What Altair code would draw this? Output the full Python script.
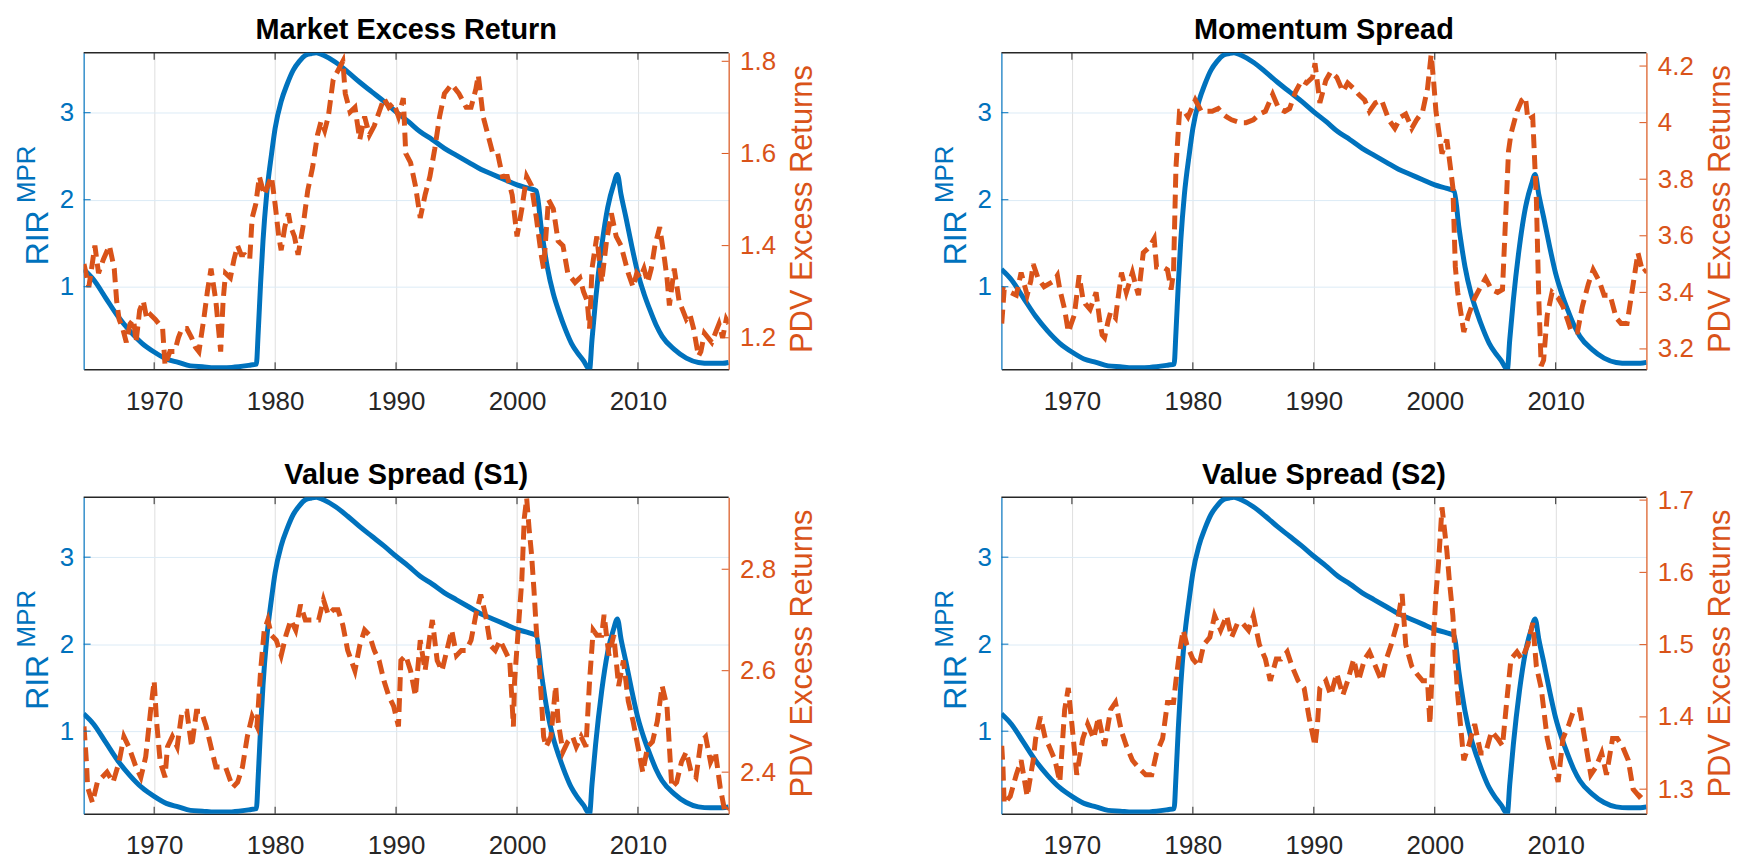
import altair as alt
import pandas as pd

# ---------------- data ----------------
rir_years = [1964.17, 1965.0, 1966.0, 1967.0, 1968.0, 1969.0, 1970.0, 1971.0, 1972.0, 1973.0,
             1974.0, 1975.0, 1976.0, 1977.0, 1978.0, 1978.45, 1978.6, 1978.8, 1979.0, 1979.3,
             1979.7, 1980.0, 1980.5, 1981.0, 1981.5, 1982.0, 1982.5, 1983.0, 1983.4, 1984.0,
             1985.0, 1986.0, 1987.0, 1988.0, 1989.0, 1990.0, 1991.0, 1992.0, 1993.0, 1994.0,
             1995.0, 1996.0, 1997.0, 1998.0, 1999.0, 2000.0, 2001.0, 2001.6, 2002.0, 2002.5,
             2003.0, 2003.5, 2004.0, 2004.5, 2005.0, 2005.5, 2006.0, 2006.2, 2006.5, 2007.0,
             2007.5, 2008.0, 2008.3, 2008.6, 2009.0, 2009.5, 2010.0, 2010.5, 2011.0, 2011.5,
             2012.0, 2013.0, 2014.0, 2015.0, 2016.0, 2017.0, 2017.5]
rir_values = [1.20, 1.08, 0.87, 0.66, 0.49, 0.35, 0.25, 0.17, 0.13, 0.09,
              0.08, 0.07, 0.07, 0.08, 0.10, 0.11, 0.47, 1.04, 1.53, 2.06,
              2.52, 2.82, 3.13, 3.33, 3.49, 3.59, 3.66, 3.68, 3.689, 3.66,
              3.58, 3.47, 3.35, 3.24, 3.13, 3.01, 2.90, 2.78, 2.69, 2.59,
              2.51, 2.43, 2.35, 2.29, 2.23, 2.17, 2.13, 2.10, 1.68, 1.23,
              0.92, 0.70, 0.51, 0.35, 0.24, 0.15, 0.051, 0.39, 0.85, 1.46,
              1.91, 2.18, 2.29, 2.06, 1.80, 1.46, 1.15, 0.92, 0.73, 0.56,
              0.43, 0.28, 0.18, 0.13, 0.12, 0.12, 0.13]

market_years = [1964.2, 1964.6, 1965.1, 1965.4, 1965.8, 1966.3, 1966.7, 1966.9, 1967.1, 1967.4,
                1967.7, 1968.0, 1968.3, 1968.5, 1968.8, 1969.1, 1969.4, 1969.7, 1970.1, 1970.4,
                1970.7, 1970.9, 1971.3, 1971.7, 1972.0, 1972.3, 1972.7, 1973.1, 1973.4, 1973.7,
                1974.1, 1974.4, 1974.7, 1975.1, 1975.5, 1975.7, 1975.9, 1976.3, 1976.6, 1976.9,
                1977.2, 1977.5, 1977.9, 1978.1, 1978.4, 1978.7, 1979.1, 1979.4, 1979.7, 1980.0,
                1980.3, 1980.5, 1980.8, 1981.1, 1981.3, 1981.6, 1981.9, 1982.3, 1982.7, 1983.1,
                1983.5, 1983.8, 1984.1, 1984.4, 1984.8, 1985.2, 1985.6, 1985.8, 1986.2, 1986.6,
                1987.0, 1987.4, 1987.8, 1988.2, 1988.6, 1989.0, 1989.4, 1989.8, 1990.2, 1990.6,
                1990.8, 1991.2, 1991.6, 1992.0, 1992.4, 1992.8, 1993.2, 1993.6, 1994.0, 1994.6,
                1995.2, 1995.8, 1996.2, 1996.6, 1996.8, 1997.2, 1997.6, 1998.0, 1998.4, 1998.8,
                1999.2, 1999.6, 2000.0, 2000.4, 2000.8, 2001.2, 2001.6, 2002.0, 2002.2, 2002.6,
                2003.0, 2003.4, 2003.8, 2004.2, 2004.5, 2004.8, 2005.2, 2005.5, 2005.8, 2006.0,
                2006.2, 2006.6, 2007.0, 2007.4, 2007.8, 2008.2, 2008.6, 2008.9, 2009.2, 2009.6,
                2009.9, 2010.2, 2010.5, 2010.8, 2011.1, 2011.4, 2011.8, 2012.2, 2012.4, 2012.6,
                2013.0, 2013.4, 2013.7, 2014.0, 2014.3, 2014.6, 2015.0, 2015.2, 2015.5, 2015.8,
                2016.1, 2016.4, 2016.7, 2017.0, 2017.3, 2017.5]
market_pdv = [1.36, 1.31, 1.40, 1.34, 1.37, 1.40, 1.35, 1.28, 1.24, 1.22,
              1.19, 1.23, 1.24, 1.19, 1.26, 1.28, 1.24, 1.25, 1.24, 1.23,
              1.22, 1.14, 1.17, 1.17, 1.20, 1.22, 1.22, 1.20, 1.18, 1.17,
              1.24, 1.30, 1.35, 1.28, 1.17, 1.28, 1.34, 1.33, 1.37, 1.40,
              1.38, 1.38, 1.37, 1.46, 1.49, 1.55, 1.51, 1.53, 1.55, 1.49,
              1.42, 1.39, 1.44, 1.47, 1.44, 1.42, 1.38, 1.44, 1.52, 1.57,
              1.64, 1.67, 1.65, 1.68, 1.76, 1.78, 1.80, 1.73, 1.69, 1.70,
              1.63, 1.68, 1.64, 1.66, 1.69, 1.72, 1.70, 1.71, 1.68, 1.72,
              1.60, 1.58, 1.53, 1.46, 1.51, 1.55, 1.61, 1.68, 1.73, 1.75,
              1.73, 1.70, 1.70, 1.74, 1.77, 1.68, 1.64, 1.60, 1.60, 1.55,
              1.55, 1.51, 1.42, 1.48, 1.55, 1.53, 1.46, 1.38, 1.35, 1.50,
              1.48, 1.41, 1.40, 1.34, 1.33, 1.32, 1.33, 1.30, 1.28, 1.22,
              1.35, 1.42, 1.32, 1.41, 1.47, 1.42, 1.40, 1.37, 1.34, 1.31,
              1.34, 1.33, 1.35, 1.32, 1.35, 1.40, 1.44, 1.37, 1.33, 1.27,
              1.35, 1.28, 1.26, 1.24, 1.25, 1.22, 1.16, 1.17, 1.21, 1.20,
              1.19, 1.21, 1.23, 1.20, 1.24, 1.23]

momentum_years = [1964.2, 1964.4, 1964.9, 1965.4, 1965.8, 1966.3, 1966.6, 1966.8, 1967.2, 1967.7,
                  1968.1, 1968.5, 1968.8, 1969.0, 1969.4, 1969.7, 1970.2, 1970.6, 1970.9, 1971.1,
                  1971.5, 1972.0, 1972.3, 1972.5, 1972.7, 1973.0, 1973.2, 1973.6, 1974.1, 1974.5,
                  1975.0, 1975.3, 1975.5, 1975.9, 1976.4, 1976.8, 1977.0, 1977.5, 1977.9, 1978.2,
                  1978.4, 1978.6, 1978.9, 1979.3, 1979.6, 1979.8, 1980.2, 1980.7, 1981.2, 1981.6,
                  1982.1, 1982.5, 1982.8, 1983.2, 1983.9, 1984.4, 1985.0, 1985.5, 1986.0, 1986.3,
                  1986.6, 1987.1, 1987.6, 1988.0, 1988.5, 1989.0, 1989.4, 1989.9, 1990.1, 1990.5,
                  1991.0, 1991.4, 1991.9, 1992.4, 1992.8, 1993.3, 1993.7, 1994.2, 1994.6, 1995.1,
                  1995.6, 1996.2, 1996.7, 1997.2, 1997.6, 1998.1, 1998.5, 1999.0, 1999.4, 1999.7,
                  1999.9, 2000.1, 2000.6, 2001.0, 2001.3, 2001.5, 2001.7, 2001.9, 2002.4, 2002.8,
                  2003.3, 2003.8, 2004.2, 2004.7, 2005.2, 2005.6, 2006.1, 2006.3, 2006.8, 2007.2,
                  2007.5, 2007.7, 2008.1, 2008.4, 2008.6, 2008.8, 2009.0, 2009.3, 2009.7, 2010.2,
                  2010.6, 2011.0, 2011.3, 2011.8, 2012.2, 2012.7, 2013.1, 2013.6, 2014.0, 2014.5,
                  2015.0, 2015.4, 2015.9, 2016.3, 2016.8, 2017.2, 2017.5]
momentum_pdv = [3.29, 3.41, 3.40, 3.39, 3.47, 3.39, 3.44, 3.50, 3.45, 3.42,
                3.43, 3.44, 3.46, 3.41, 3.34, 3.26, 3.32, 3.46, 3.38, 3.36,
                3.34, 3.40, 3.30, 3.25, 3.24, 3.30, 3.33, 3.31, 3.47, 3.40,
                3.47, 3.42, 3.39, 3.54, 3.56, 3.59, 3.49, 3.49, 3.48, 3.41,
                3.47, 3.84, 4.04, 4.04, 4.02, 4.04, 4.08, 4.04, 4.04, 4.04,
                4.05, 4.03, 4.02, 4.01, 4.00, 4.00, 4.01, 4.03, 4.04, 4.07,
                4.10, 4.05, 4.04, 4.05, 4.11, 4.15, 4.14, 4.16, 4.21, 4.07,
                4.15, 4.18, 4.16, 4.11, 4.14, 4.12, 4.10, 4.08, 4.04, 4.07,
                4.08, 4.01, 3.98, 4.02, 4.03, 3.98, 4.01, 4.04, 4.12, 4.24,
                4.15, 4.04, 3.89, 3.94, 3.84, 3.77, 3.49, 3.40, 3.26, 3.32,
                3.38, 3.42, 3.45, 3.41, 3.40, 3.41, 3.90, 3.96, 4.04, 4.08,
                4.09, 4.01, 4.02, 3.73, 3.38, 3.14, 3.16, 3.32, 3.40, 3.38,
                3.35, 3.30, 3.26, 3.26, 3.35, 3.43, 3.48, 3.44, 3.39, 3.39,
                3.31, 3.29, 3.29, 3.40, 3.54, 3.47, 3.48]

value1_years = [1964.2, 1964.4, 1964.5, 1964.9, 1965.3, 1965.7, 1966.1, 1966.6, 1967.1, 1967.5,
                1967.9, 1968.2, 1968.5, 1968.9, 1969.3, 1969.7, 1970.0, 1970.2, 1970.5, 1970.9,
                1971.1, 1971.5, 1971.9, 1972.3, 1972.7, 1973.1, 1973.5, 1973.9, 1974.3, 1974.7,
                1975.1, 1975.5, 1975.9, 1976.2, 1976.5, 1976.9, 1977.3, 1977.7, 1978.1, 1978.5,
                1978.8, 1979.1, 1979.4, 1979.7, 1980.1, 1980.5, 1980.9, 1981.3, 1981.7, 1982.1,
                1982.5, 1983.1, 1983.6, 1984.0, 1984.4, 1984.8, 1985.2, 1985.6, 1986.0, 1986.6,
                1987.0, 1987.4, 1987.8, 1988.2, 1988.6, 1989.0, 1989.4, 1989.8, 1990.2, 1990.4,
                1990.8, 1991.2, 1991.6, 1992.0, 1992.4, 1992.8, 1993.0, 1993.4, 1993.8, 1994.2,
                1994.6, 1995.0, 1995.4, 1995.8, 1996.2, 1996.6, 1997.0, 1997.4, 1997.8, 1998.2,
                1998.6, 1999.0, 1999.4, 1999.7, 1999.8, 2000.1, 2000.4, 2000.6, 2000.8, 2001.0,
                2001.2, 2001.4, 2001.6, 2001.8, 2002.0, 2002.2, 2002.4, 2002.8, 2003.2, 2003.4,
                2003.8, 2004.2, 2004.6, 2004.9, 2005.3, 2005.7, 2006.0, 2006.3, 2006.6, 2007.0,
                2007.2, 2007.6, 2008.0, 2008.4, 2008.8, 2009.2, 2009.6, 2010.0, 2010.4, 2010.8,
                2011.2, 2011.6, 2012.0, 2012.4, 2012.8, 2013.2, 2013.6, 2014.0, 2014.4, 2014.8,
                2015.2, 2015.6, 2016.0, 2016.4, 2016.8, 2017.2, 2017.5]
value1_pdv = [2.49, 2.42, 2.37, 2.34, 2.38, 2.39, 2.40, 2.38, 2.42, 2.47,
              2.45, 2.43, 2.41, 2.39, 2.43, 2.52, 2.58, 2.50, 2.42, 2.39,
              2.45, 2.47, 2.45, 2.52, 2.52, 2.45, 2.52, 2.52, 2.49, 2.45,
              2.41, 2.41, 2.41, 2.39, 2.37, 2.38, 2.41, 2.47, 2.51, 2.49,
              2.60, 2.68, 2.70, 2.67, 2.66, 2.63, 2.67, 2.70, 2.68, 2.73,
              2.70, 2.70, 2.70, 2.74, 2.71, 2.72, 2.72, 2.69, 2.64, 2.60,
              2.65, 2.68, 2.67, 2.64, 2.62, 2.58, 2.55, 2.53, 2.49, 2.62,
              2.63, 2.60, 2.55, 2.66, 2.60, 2.67, 2.70, 2.62, 2.60, 2.64,
              2.68, 2.63, 2.64, 2.64, 2.66, 2.71, 2.75, 2.71, 2.65, 2.64,
              2.66, 2.64, 2.62, 2.49, 2.58, 2.68, 2.78, 2.90, 2.94, 2.88,
              2.83, 2.76, 2.68, 2.62, 2.55, 2.47, 2.45, 2.47, 2.57, 2.50,
              2.44, 2.46, 2.47, 2.45, 2.47, 2.45, 2.58, 2.68, 2.67, 2.67,
              2.71, 2.63, 2.67, 2.57, 2.62, 2.54, 2.50, 2.45, 2.40, 2.45,
              2.46, 2.50, 2.57, 2.53, 2.37, 2.38, 2.42, 2.44, 2.40, 2.39,
              2.46, 2.47, 2.42, 2.44, 2.37, 2.32, 2.33]

value2_years = [1964.2, 1964.3, 1964.4, 1964.9, 1965.4, 1965.8, 1966.3, 1966.8, 1967.0, 1967.4,
                1967.8, 1968.1, 1968.6, 1969.0, 1969.4, 1969.7, 1970.0, 1970.4, 1970.9, 1971.3,
                1971.8, 1972.2, 1972.7, 1973.2, 1973.6, 1974.1, 1974.5, 1975.0, 1975.5, 1976.1,
                1976.6, 1977.0, 1977.5, 1977.9, 1978.4, 1978.6, 1978.9, 1979.2, 1979.5, 1980.0,
                1980.5, 1980.9, 1981.4, 1981.8, 1982.3, 1982.8, 1983.2, 1983.7, 1984.1, 1984.6,
                1985.0, 1985.5, 1986.0, 1986.4, 1986.9, 1987.3, 1987.8, 1988.2, 1988.7, 1989.2,
                1989.6, 1990.1, 1990.3, 1990.5, 1991.0, 1991.4, 1991.9, 1992.4, 1992.8, 1993.3,
                1993.7, 1994.2, 1994.6, 1995.1, 1995.6, 1996.0, 1996.4, 1996.9, 1997.3, 1997.6,
                1998.1, 1998.5, 1999.0, 1999.4, 1999.6, 1999.9, 2000.1, 2000.3, 2000.6, 2000.8,
                2001.0, 2001.2, 2001.5, 2001.7, 2001.9, 2002.4, 2002.8, 2003.3, 2003.8, 2004.2,
                2004.7, 2005.2, 2005.6, 2006.0, 2006.3, 2006.8, 2007.2, 2007.7, 2008.1, 2008.4,
                2008.8, 2009.3, 2009.7, 2010.2, 2010.6, 2011.1, 2011.5, 2012.0, 2012.4, 2012.9,
                2013.3, 2013.8, 2014.2, 2014.7, 2015.1, 2015.5, 2016.0, 2016.4, 2016.9, 2017.5]
value2_pdv = [1.36, 1.33, 1.28, 1.29, 1.32, 1.34, 1.29, 1.34, 1.37, 1.40,
              1.37, 1.36, 1.34, 1.31, 1.41, 1.44, 1.39, 1.32, 1.37, 1.39,
              1.37, 1.40, 1.36, 1.41, 1.42, 1.38, 1.36, 1.34, 1.33, 1.32,
              1.32, 1.35, 1.37, 1.42, 1.42, 1.45, 1.49, 1.52, 1.50, 1.48,
              1.47, 1.50, 1.51, 1.54, 1.52, 1.54, 1.51, 1.53, 1.53, 1.52,
              1.54, 1.50, 1.48, 1.45, 1.48, 1.48, 1.49, 1.47, 1.45, 1.44,
              1.40, 1.36, 1.39, 1.44, 1.45, 1.43, 1.46, 1.43, 1.45, 1.48,
              1.45, 1.48, 1.49, 1.47, 1.45, 1.48, 1.50, 1.53, 1.57, 1.50,
              1.47, 1.46, 1.45, 1.45, 1.39, 1.51, 1.57, 1.61, 1.69, 1.66,
              1.63, 1.59, 1.54, 1.48, 1.43, 1.34, 1.36, 1.39, 1.35, 1.35,
              1.38, 1.37, 1.36, 1.43, 1.48, 1.49, 1.48, 1.50, 1.53, 1.47,
              1.44, 1.37, 1.34, 1.31, 1.37, 1.39, 1.41, 1.41, 1.37, 1.32,
              1.33, 1.35, 1.32, 1.37, 1.37, 1.36, 1.34, 1.30, 1.29, 1.30]

x_ticks = [1970, 1980, 1990, 2000, 2010]
left_ticks = [1, 2, 3]
market_ticks = [1.2, 1.4, 1.6, 1.8]
momentum_ticks = [3.2, 3.4, 3.6, 3.8, 4.0, 4.2]
value1_ticks = [2.4, 2.6, 2.8]
value2_ticks = [1.3, 1.4, 1.5, 1.6, 1.7]

x_domain = [1964.17, 2017.5]
left_domain = [0.051, 3.689]
market_domain = [1.1316, 1.8185]
momentum_domain = [3.128, 4.247]
value1_domain = [2.318, 2.942]
value2_domain = [1.266, 1.704]

titles = ["Market Excess Return", "Momentum Spread", "Value Spread (S1)", "Value Spread (S2)"]

# ---------------- styling ----------------
W, H = 648, 318
BLUE = "#0072BD"
ORANGE = "#D95319"
DARK = "#262626"
FONT = "Liberation Sans"
TICK = 7

X_AXIS = alt.Axis(values=x_ticks, format="d", grid=True, gridColor="#DFDFDF", gridWidth=1,
                  ticks=False, domain=True, domainColor=DARK, domainWidth=1.5,
                  labelColor=DARK, labelFontSize=26, labelFont=FONT, labelPadding=19,
                  labelFlush=False, title=None)


def xenc():
    return alt.X("year:Q", scale=alt.Scale(domain=x_domain, nice=False, zero=False),
                 axis=X_AXIS)


def yenc(domain, axis=None):
    return alt.Y("v:Q", scale=alt.Scale(domain=domain, nice=False, zero=False),
                 axis=axis, title=None)


def one(text):
    return pd.DataFrame({"t": [text]})


def panel(title, years, pdv, rdomain, rticks, anchor=False):
    rir_df = pd.DataFrame({"year": rir_years, "v": rir_values})
    pdv_df = pd.DataFrame({"year": years, "v": pdv})

    left_axis = alt.Axis(orient="left", values=left_ticks, format="d", grid=True,
                         gridColor="#DCEBF6", gridWidth=1, ticks=False, domain=True,
                         domainColor=BLUE, domainWidth=1.2, labelColor=BLUE, labelFontSize=26,
                         labelFont=FONT, labelPadding=10)
    right_axis = alt.Axis(orient="right", values=rticks, format="~g", grid=False, ticks=False,
                          domain=True, domainColor=ORANGE, domainWidth=1.2, labelColor=ORANGE,
                          labelFontSize=26, labelFont=FONT, labelPadding=11)

    top_border = alt.Chart(one("b")).mark_rule(color=DARK, strokeWidth=1.5).encode(
        x=alt.value(0), x2=alt.value(W), y=alt.value(0))

    blue = alt.Chart(rir_df).mark_line(color=BLUE, strokeWidth=5, interpolate="monotone",
                                       clip=True).encode(
        x=xenc(), y=yenc(left_domain, left_axis))

    orange = alt.Chart(pdv_df).mark_line(color=ORANGE, strokeWidth=5, strokeDash=[14, 7],
                                         strokeCap="butt", clip=True).encode(
        x=xenc(), y=yenc(rdomain, right_axis))

    xt = pd.DataFrame({"year": x_ticks})
    bottom_tk = alt.Chart(xt).mark_rule(color=DARK, strokeWidth=1).encode(
        x=xenc(), y=alt.value(H), y2=alt.value(H - TICK))
    top_tk = alt.Chart(xt).mark_rule(color=DARK, strokeWidth=1).encode(
        x=xenc(), y=alt.value(0), y2=alt.value(TICK))
    left_tk = alt.Chart(pd.DataFrame({"v": left_ticks})).mark_rule(color=BLUE, strokeWidth=1).encode(
        y=yenc(left_domain), x=alt.value(0), x2=alt.value(TICK))
    right_tk = alt.Chart(pd.DataFrame({"v": rticks})).mark_rule(color=ORANGE, strokeWidth=1).encode(
        y=yenc(rdomain), x=alt.value(W - TICK), x2=alt.value(W))

    title_t = alt.Chart(one(title)).mark_text(font=FONT, fontSize=29, fontWeight="bold",
                                             color="#000000", align="center",
                                             baseline="middle").encode(
        text="t:N", x=alt.value(W / 2), y=alt.value(-22.7))
    rir_t = alt.Chart(one("RIR")).mark_text(font=FONT, fontSize=32, color=BLUE, angle=270,
                                           align="center", baseline="alphabetic").encode(
        text="t:N", x=alt.value(-36), y=alt.value(186))
    mpr_t = alt.Chart(one("MPR")).mark_text(font=FONT, fontSize=26, color=BLUE, angle=270,
                                           align="center", baseline="alphabetic").encode(
        text="t:N", x=alt.value(-49), y=alt.value(122))
    pdv_t = alt.Chart(one("PDV Excess Returns")).mark_text(font=FONT, fontSize=31, color=ORANGE,
                                                          angle=270, align="center",
                                                          baseline="alphabetic").encode(
        text="t:N", x=alt.value(W + 84), y=alt.value(H / 2 - 2))

    layers = [top_border, blue, orange, bottom_tk, top_tk, left_tk, right_tk,
              title_t, rir_t, mpr_t, pdv_t]
    if anchor:
        layers.append(alt.Chart(one("a")).mark_rule(opacity=0, strokeWidth=0).encode(
            x=alt.value(-76), x2=alt.value(-76), y=alt.value(-42.7), y2=alt.value(-40)))
    return alt.layer(*layers).resolve_scale(y="independent").properties(width=W, height=H)


p1 = panel(titles[0], market_years, market_pdv, market_domain, market_ticks, anchor=True)
p2 = panel(titles[1], momentum_years, momentum_pdv, momentum_domain, momentum_ticks)
p3 = panel(titles[2], value1_years, value1_pdv, value1_domain, value1_ticks)
p4 = panel(titles[3], value2_years, value2_pdv, value2_domain, value2_ticks)

chart = alt.concat(p1, p2, p3, p4, columns=2, spacing={"row": 128.5, "column": 274},
                   bounds="flush").properties(
    padding=0, background="white").configure_view(stroke=None)

chart.save("out.html", embed_options={"renderer": "svg", "actions": False})
